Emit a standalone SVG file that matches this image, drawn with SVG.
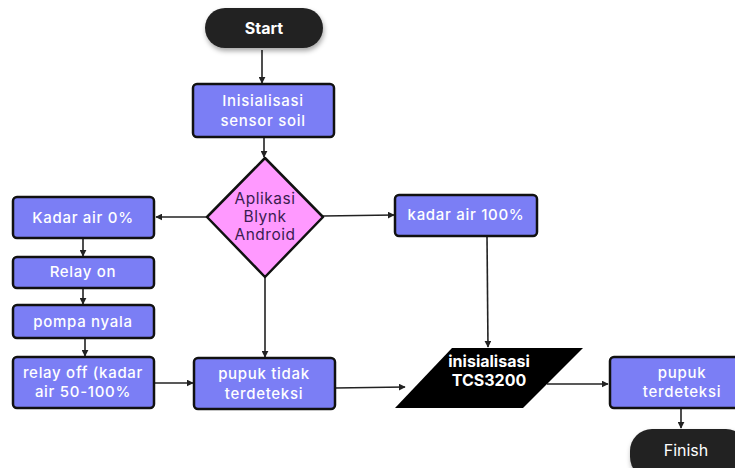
<svg xmlns="http://www.w3.org/2000/svg" width="735" height="468" viewBox="0 0 735 468">
<defs>
<marker id="ah" viewBox="0 0 10 10" refX="9" refY="5" markerWidth="7" markerHeight="7" orient="auto" markerUnits="userSpaceOnUse">
<path d="M0,0 L10,5 L0,10 z" fill="#222"/>
</marker>
<filter id="sh" x="-20%" y="-30%" width="140%" height="170%">
<feDropShadow dx="1" dy="3" stdDeviation="2.5" flood-color="#000" flood-opacity="0.35"/>
</filter>
</defs>
<style>
.box{fill:#7b7ef5;stroke:#111;stroke-width:2.5}
.term{fill:#242424}
.bt{fill:#ffffff;font-family:Inter,"Noto Sans",sans-serif;font-size:15px;font-weight:500;letter-spacing:0.7px;text-anchor:middle}
.tt{fill:#ffffff;font-family:Inter,"Noto Sans",sans-serif;font-size:16px;text-anchor:middle}
.dt{fill:#3a1c50;font-family:Inter,"Noto Sans",sans-serif;font-size:15.5px;letter-spacing:0.5px;text-anchor:middle}
.pt{fill:#ffffff;font-family:Inter,"Noto Sans",sans-serif;font-size:16px;font-weight:700;text-anchor:middle}
.c{fill:none;stroke:#222;stroke-width:1.6;marker-end:url(#ah)}
</style>
<rect width="735" height="468" fill="#ffffff"/>
<g id="connectors">
<line class="c" x1="262" y1="50" x2="262" y2="83"/>
<line class="c" x1="264" y1="137" x2="264" y2="157"/>
<line class="c" x1="207" y1="217" x2="156" y2="217"/>
<line class="c" x1="323" y1="216" x2="394" y2="215"/>
<line class="c" x1="83" y1="238" x2="83" y2="256"/>
<line class="c" x1="83" y1="288" x2="83" y2="304"/>
<line class="c" x1="85" y1="338" x2="85" y2="356"/>
<line class="c" x1="155" y1="383" x2="193" y2="383"/>
<line class="c" x1="265" y1="277" x2="265" y2="357"/>
<line class="c" x1="335" y1="388" x2="405" y2="387"/>
<line class="c" x1="487" y1="236" x2="488" y2="347"/>
<line class="c" x1="547" y1="384" x2="608" y2="384"/>
<line class="c" x1="681" y1="408" x2="681" y2="428"/>
</g>
<g id="start">
<rect class="term" x="205" y="8" width="118" height="40" rx="20" filter="url(#sh)"/>
<text class="pt" x="264" y="34">Start</text>
</g>
<g id="init-soil">
<rect class="box" x="193" y="84" width="141" height="53" rx="4"/>
<text class="bt" x="263" y="106">Inisialisasi</text>
<text class="bt" x="263" y="126">sensor soil</text>
</g>
<g id="blynk">
<polygon points="265,158 323,217 265,277 207,217" fill="#ff99ff" stroke="#111" stroke-width="2.5" stroke-linejoin="round"/>
<text class="dt" x="265" y="204">Aplikasi</text>
<text class="dt" x="265" y="222">Blynk</text>
<text class="dt" x="265" y="240">Android</text>
</g>
<g id="kadar0">
<rect class="box" x="13" y="197" width="141" height="41" rx="4"/>
<text class="bt" x="83" y="223">Kadar air 0%</text>
</g>
<g id="relay-on">
<rect class="box" x="13" y="257" width="141" height="31" rx="4"/>
<text class="bt" x="83" y="277">Relay on</text>
</g>
<g id="pompa">
<rect class="box" x="13" y="305" width="141" height="33" rx="4"/>
<text class="bt" x="83" y="327">pompa nyala</text>
</g>
<g id="relay-off">
<rect class="box" x="13" y="357" width="141" height="51" rx="4"/>
<text class="bt" x="83" y="378">relay off (kadar</text>
<text class="bt" x="83" y="397">air 50-100%</text>
</g>
<g id="pupuk-tidak">
<rect class="box" x="194" y="358" width="141" height="51" rx="4"/>
<text class="bt" x="264" y="379">pupuk tidak</text>
<text class="bt" x="264" y="399">terdeteksi</text>
</g>
<g id="kadar100">
<rect class="box" x="395" y="195" width="142" height="41" rx="4"/>
<text class="bt" x="466" y="220">kadar air 100%</text>
</g>
<g id="tcs">
<polygon points="452,348 583,348 523,408 395,408" fill="#000000"/>
<text class="pt" x="489" y="367">inisialisasi</text>
<text class="pt" x="489" y="386">TCS3200</text>
</g>
<g id="pupuk-terdeteksi">
<rect class="box" x="610" y="357" width="144" height="51" rx="4"/>
<text class="bt" x="682" y="378">pupuk</text>
<text class="bt" x="682" y="397">terdeteksi</text>
</g>
<g id="finish">
<rect class="term" x="630" y="429" width="118" height="50" rx="22" filter="url(#sh)"/>
<text class="tt" x="686" y="456">Finish</text>
</g>
</svg>
